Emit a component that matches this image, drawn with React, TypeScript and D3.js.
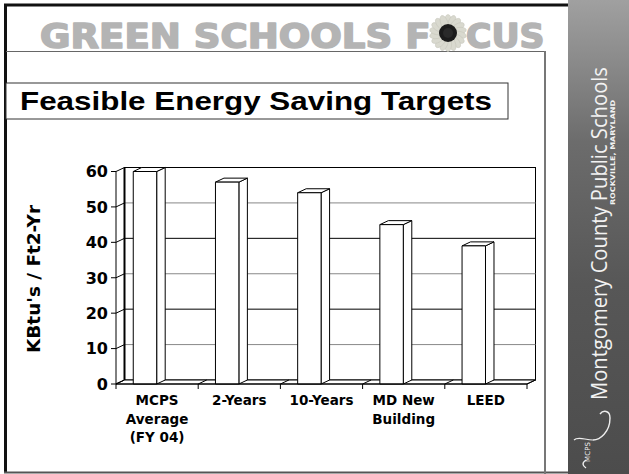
import React from 'react'
import * as d3 from 'd3'

// chart values
const categories = ['MCPS Average (FY 04)', '2-Years', '10-Years', 'MD New Building', 'LEED']
const labelLines = [['MCPS', 'Average', '(FY 04)'], ['2-Years'], ['10-Years'], ['MD New', 'Building'], ['LEED']]
const values = [60, 57, 54, 45, 39]
const yTicks = [0, 10, 20, 30, 40, 50, 60]

const W = 629
const H = 474
const plot = { left: 116, right: 527, top: 171.5, bottom: 384 }
const depth = { dx: 8.5, dy: -4 }
const font = 'Liberation Sans, Arial, sans-serif'
const wide = 'DejaVu Sans, sans-serif'

const App = () => {
  const x = d3.scaleBand<string>()
    .domain(categories)
    .range([plot.left, plot.right])
  const y = d3.scaleLinear()
    .domain([0, 60])
    .range([plot.bottom, plot.top])
  const bw = x.bandwidth()
  const { dx, dy } = depth
  const y0 = y(0)
  const bounds = categories.map(c => x(c) as number).concat([plot.right])

  const petals = d3.range(18).map(i => (i * 360) / 18)

  return (
    <svg width={W} height={H} style={{ position: 'absolute', left: 0, top: 0, background: '#fff' }}>
      <defs>
        <linearGradient id='strip' x1='0' y1='0' x2='0' y2='1'>
          <stop offset='0' stopColor='#a0a0a0' />
          <stop offset='0.12' stopColor='#8c8c8c' />
          <stop offset='0.3' stopColor='#6c6c6c' />
          <stop offset='0.6' stopColor='#575757' />
          <stop offset='1' stopColor='#4c4c4c' />
        </linearGradient>
      </defs>

      {/* right photo strip */}
      <rect x={568} y={0} width={61} height={H} fill='url(#strip)' />
      <text transform='translate(607,400) rotate(-90)' fontFamily='Open Sans, sans-serif' fontSize={21}
        fill='#f2f2f2' textLength={333} lengthAdjust='spacingAndGlyphs'>Montgomery County Public Schools</text>
      <text transform='translate(615,205) rotate(-90)' fontFamily={wide} fontWeight='bold' fontSize={6.5}
        fill='#f2f2f2' textLength={105} lengthAdjust='spacingAndGlyphs'>ROCKVILLE, MARYLAND</text>
      <text transform='translate(590,462) rotate(-90)' fontFamily={wide} fontSize={7}
        fill='#eee' textLength={20}>MCPS</text>
      <path d='M 586 468 q -6 -4 0 -8 M 593 440 C 600 440, 610 432, 610 418 C 610 410, 603 410, 600 414' fill='none' stroke='#eee' strokeWidth={1.4} />
      <path d='M 593 440 C 585 440, 578 436, 574 440' fill='none' stroke='#eee' strokeWidth={1.2} />

      {/* slide frame */}
      <line x1={4} x2={568} y1={5} y2={5} stroke='#111' strokeWidth={3} />
      <line x1={5.5} x2={5.5} y1={4} y2={473} stroke='#111' strokeWidth={3} />
      <line x1={4} x2={568} y1={472.5} y2={472.5} stroke='#555' strokeWidth={2} />
      <line x1={6} x2={545} y1={51.5} y2={51.5} stroke='#666' strokeWidth={1} />
      <line x1={545} x2={545} y1={51} y2={H} stroke='#777' strokeWidth={2} />

      {/* header */}
      <g transform='translate(40,47.5) scale(1.125,1)'>
        <text x={0} y={0} fontFamily={wide} fontWeight='bold' fontSize={33} fill='#b4b4b4'
          stroke='#b4b4b4' strokeWidth={1.6} strokeLinejoin='round'>GREEN SCHOOLS F</text>
      </g>
      <g transform='translate(466,47.5) scale(1.05,1)'>
        <text x={0} y={0} fontFamily={wide} fontWeight='bold' fontSize={33} fill='#b4b4b4'
          stroke='#b4b4b4' strokeWidth={1.6} strokeLinejoin='round'>CUS</text>
      </g>
      <g transform='translate(448,33)'>
        {petals.map(a => (
          <ellipse key={a} cx={0} cy={-11} rx={3.6} ry={7.5} fill='#d9d9cf' stroke='#c4c4b8' strokeWidth={0.5}
            transform={`rotate(${a})`} />
        ))}
        <circle r={9} fill='#1c1c1c' />
        <circle r={5} fill='#2a2a2a' />
      </g>

      {/* title box */}
      <rect x={6} y={83} width={502} height={36} fill='#fff' stroke='#333' strokeWidth={1} />
      <text x={20} y={110} fontFamily={font} fontWeight='bold' fontSize={26.5} fill='#000'
        textLength={472} lengthAdjust='spacingAndGlyphs'>Feasible Energy Saving Targets</text>

      {/* back wall */}
      <rect x={plot.left + dx} y={plot.top + dy} width={plot.right - plot.left} height={y0 - plot.top}
        fill='#fff' stroke='#000' strokeWidth={1} />
      {yTicks.filter(t => t > 0 && t < 60).map((t, i) => (
        <line key={t} x1={plot.left + dx} x2={plot.right + dx} y1={y(t) + dy} y2={y(t) + dy}
          stroke={i % 2 === 0 ? '#888' : '#000'} strokeWidth={1} />
      ))}
      {/* left side wall */}
      <line x1={plot.left + dx} x2={plot.left + dx} y1={plot.top + dy} y2={y0 + dy} stroke='#000' strokeWidth={2} />
      {yTicks.map(t => (
        <line key={t} x1={plot.left} y1={y(t)} x2={plot.left + dx} y2={y(t) + dy} stroke='#000' strokeWidth={1} />
      ))}
      {/* floor */}
      <polygon points={`${plot.left},${y0} ${plot.right},${y0} ${plot.right + dx},${y0 + dy} ${plot.left + dx},${y0 + dy}`}
        fill='#fff' stroke='#000' strokeWidth={1} />
      {bounds.map((b, i) => (
        <line key={i} x1={b} y1={y0} x2={b + dx} y2={y0 + dy} stroke='#000' strokeWidth={1} />
      ))}

      {/* bars */}
      {values.map((v, i) => {
        const x0 = (x(categories[i]) as number) + bw * 0.21
        const w = bw * 0.285
        const yt = y(v)
        return (
          <g key={i} fill='#fff' stroke='#000' strokeWidth={1} strokeLinejoin='round'>
            <polygon points={`${x0 + w},${yt} ${x0 + w + dx},${yt + dy} ${x0 + w + dx},${y0 + dy} ${x0 + w},${y0}`} />
            <polygon points={`${x0},${yt} ${x0 + dx},${yt + dy} ${x0 + w + dx},${yt + dy} ${x0 + w},${yt}`} />
            <rect x={x0} y={yt} width={w} height={y0 - yt} />
          </g>
        )
      })}

      {/* axes */}
      <line x1={plot.left} x2={plot.left} y1={plot.top} y2={y0} stroke='#000' strokeWidth={1} />
      <line x1={plot.left} x2={plot.right} y1={y0} y2={y0} stroke='#000' strokeWidth={1} />
      {yTicks.map(t => (
        <g key={t}>
          <line x1={plot.left - 5} x2={plot.left} y1={y(t)} y2={y(t)} stroke='#000' />
          <text x={108} y={y(t)} dy='0.36em' textAnchor='end' fontFamily={wide} fontWeight='bold' fontSize={16}>{t}</text>
        </g>
      ))}
      {bounds.map((b, i) => (
        <line key={i} x1={b} x2={b} y1={y0} y2={y0 + 5} stroke='#000' />
      ))}
      {labelLines.map((lines, i) => (
        <text key={i} textAnchor='middle' fontFamily={wide} fontWeight='bold' fontSize={13.5}>
          {lines.map((l, j) => (
            <tspan key={j} x={(x(categories[i]) as number) + bw / 2} y={405 + j * 18.5}>{l}</tspan>
          ))}
        </text>
      ))}
      <text transform='translate(40,279) rotate(-90)' textAnchor='middle' fontFamily={wide} fontWeight='bold'
        fontSize={17} textLength={148} lengthAdjust='spacingAndGlyphs'>KBtu's / Ft2-Yr</text>
    </svg>
  )
}

export default App
